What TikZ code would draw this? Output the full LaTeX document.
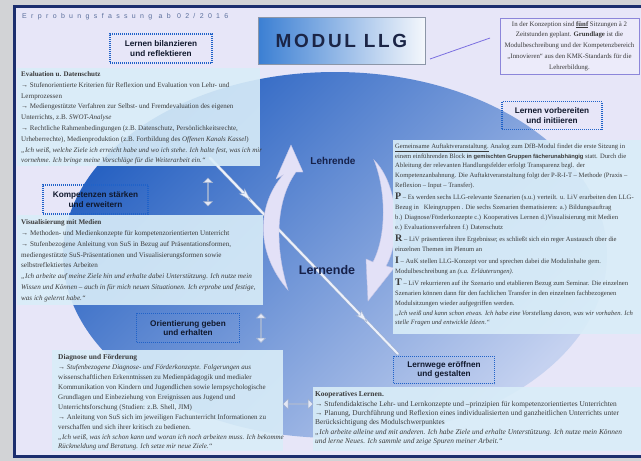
\documentclass[tikz,border=0pt]{standalone}
\usepackage{fontspec}
\setmainfont{Liberation Serif}
\setsansfont{Liberation Sans}
\newfontfamily\hdrfont[LetterSpace=62]{Liberation Sans}
\newfontfamily\modfont[LetterSpace=14]{Liberation Sans}
\usetikzlibrary{shapes.arrows,decorations.markings,arrows.meta}
\definecolor{outerbg}{HTML}{D2D3D6}
\definecolor{framebg}{HTML}{E7E6F8}
\definecolor{framec}{HTML}{1C2E6E}
\definecolor{blueA}{HTML}{2862C2}
\definecolor{blueB}{HTML}{5B92DB}
\definecolor{blueC}{HTML}{C5D2F0}
\definecolor{boxc}{HTML}{D9EDF8}
\definecolor{dotc}{HTML}{2062C8}
\definecolor{lblc}{HTML}{10182C}
\definecolor{txtc}{HTML}{3A3A3A}
\definecolor{hdrc}{HTML}{5B6F9C}
\definecolor{modA}{HTML}{3B7FD3}
\definecolor{modB}{HTML}{F4F7FC}
\definecolor{modd}{HTML}{8C96A8}
\definecolor{modtxt}{HTML}{1B2546}
\definecolor{infobg}{HTML}{ECEBFA}
\definecolor{infod}{HTML}{8C86DA}
\definecolor{lline}{HTML}{7B6FE0}
\definecolor{cresc}{HTML}{E3E1F7}
\definecolor{cresd}{HTML}{C5C6E6}
\definecolor{arrc}{HTML}{E4E8F5}
\definecolor{arrd}{HTML}{9FB0CE}
\definecolor{spf}{HTML}{EDF1FA}
\definecolor{spd}{HTML}{9FB0D0}
\definecolor{rolec}{HTML}{16214A}
\newcommand\bigltr[1]{{\fontsize{10}{9.5}\selectfont\bfseries #1}}
\begin{document}
\begin{tikzpicture}[x=1pt,y=-1pt,
  infobox/.style={fill=boxc, fill opacity=0.9, draw=none},
  dotbox/.style={draw=dotc, line width=1.3pt, dash pattern=on 1pt off 1pt, font=\sffamily\bfseries\fontsize{8.2}{9.6}\selectfont, align=center, text=lblc, inner sep=0pt},
  bodytext/.style={anchor=north west, align=left, inner sep=0pt, text=txtc},
  dblarrow/.style={double arrow, fill=arrc, draw=arrd, line width=0.5pt, double arrow head extend=4pt, inner sep=0pt, minimum width=9pt},
  crescent/.style={fill=cresc, draw=cresd, line width=0.4pt},
  rolelabel/.style={font=\sffamily\bfseries, text=rolec, inner sep=0pt},
  spikeline/.style={line cap=round}
]
\useasboundingbox (0,0) rectangle (641,461);
\clip (0,0) rectangle (641,461);
\fill[outerbg] (0,0) rectangle (641,461);
\fill[framebg] (14,6) rectangle (660,456);
% big blue area
\shade[top color=blueA, middle color=blueB, bottom color=blueC, shading angle=45] (335,255) ellipse [x radius=272pt, y radius=183pt];

% header
\node[anchor=west, text=hdrc, font=\hdrfont\fontsize{7}{8}\selectfont, inner sep=0pt] (hdr) at (22,17) {Erprobungsfassung ab 02/2016};

% title box
\node[draw=modd, line width=0.6pt, left color=modA, right color=modB, minimum width=167pt, minimum height=47pt, inner sep=0pt, font=\modfont\bfseries\fontsize{19}{21}\selectfont, text=modtxt] (modul) at (341.5,40.5) {MODUL LLG};

% info box
\node[draw=infod, line width=0.8pt, fill=infobg, minimum width=139pt, minimum height=56pt, align=center, font=\fontsize{6.8}{10.8}\selectfont, text=txtc, inner sep=0pt] (info) at (569.5,46) {In der Konzeption sind \textbf{\underline{fünf}} Sitzungen à 2\\Zeitstunden geplant. \textbf{Grundlage} ist die\\Modulbeschreibung und der Kompetenzbereich\\„Innovieren“ aus den KMK-Standards für die\\Lehrerbildung.};
\coordinate (pl1) at (430,59);
\coordinate (pl2) at (490,38);
\draw[lline, line width=0.8pt] (pl1) -- (pl2);

% spike
\coordinate (spA) at (210,158);
\coordinate (spB) at (398,354);
\draw[spikeline, spd, line width=3pt] (spA) -- (spB);
\draw[spikeline, spf, line width=2pt] (spA) -- (spB);
\path[decorate, decoration={markings,
  mark=at position 0.2 with {\draw[spd, fill=spf, line width=0.4pt] (-8,-3.5) -- (4,0) -- (-8,3.5) -- (-5,0) -- cycle;},
  mark=at position 0.82 with {\draw[spd, fill=spf, line width=0.4pt] (-8,-3.5) -- (4,0) -- (-8,3.5) -- (-5,0) -- cycle;}}] (spA) -- (spB);

% crescents
\path[crescent] (288,290) .. controls (255,252) and (257,205) .. (283,175) -- (276,179) -- (291,145) -- (303,172) -- (296,172) .. controls (276,200) and (274,245) .. (288,290) -- cycle;
\path[crescent] (374,160) .. controls (399,185) and (401,240) .. (386,266) -- (394,268) -- (368,301) -- (366,259) -- (373,262) .. controls (387,235) and (386,190) .. (374,160) -- cycle;
\node[rolelabel, font=\sffamily\bfseries\fontsize{10}{12}\selectfont] (lehr) at (333,161) {Lehrende};
\node[rolelabel, font=\sffamily\bfseries\fontsize{12.5}{14}\selectfont] (lern) at (327,270) {Lernende};

% boxes
\fill[infobox] (17,68) rectangle (260,166);
\fill[infobox] (17,215) rectangle (263,305);
\fill[infobox] (52,350) rectangle (283,451);
\fill[infobox] (393,140) rectangle (660,334);
\fill[infobox] (313,387) rectangle (660,451);

\node[bodytext, font=\fontsize{7.0}{10.8}\selectfont] (evaltxt) at (21,71.5) {\textbf{Evaluation u. Datenschutz}\\
→ Stufenorientierte Kriterien für Reflexion und Evaluation von Lehr- und\\
Lernprozessen\\
→ Mediengestützte Verfahren zur Selbst- und Fremdevaluation des eigenen\\
Unterrichts, z.B. \textit{SWOT-Analyse}\\
→ Rechtliche Rahmenbedingungen (z.B. Datenschutz, Persönlichkeitsrechte,\\
Urheberrechte), Medienproduktion (z.B. Fortbildung des \textit{Offenen Kanals Kassel})\\
\textit{„Ich weiß, welche Ziele ich erreicht habe und wo ich stehe. Ich halte fest, was ich mir}\\
\textit{vornehme. Ich bringe meine Vorschläge für die Weiterarbeit ein.“}};

\node[bodytext, font=\fontsize{7.1}{10.8}\selectfont] (vistxt) at (21,219.5) {\textbf{Visualisierung mit Medien}\\
→ Methoden- und Medienkonzepte für kompetenzorientierten Unterricht\\
→ Stufenbezogene Anleitung von SuS in Bezug auf Präsentationsformen,\\
mediengestützte SuS-Präsentationen und Visualisierungsformen sowie\\
selbstreflektiertes Arbeiten\\
\textit{„Ich arbeite auf meine Ziele hin und erhalte dabei Unterstützung. Ich nutze mein}\\
\textit{Wissen und Können – auch in für mich neuen Situationen. Ich erprobe und festige,}\\
\textit{was ich gelernt habe.“}};

\node[bodytext, font=\fontsize{7.0}{9.9}\selectfont] (diagtxt) at (58,354.5) {{\fontsize{7.4}{9.9}\selectfont\textbf{Diagnose und Förderung}}\\
→ \textit{Stufenbezogene Diagnose- und Förderkonzepte. Folgerungen aus}\\
wissenschaftlichen Erkenntnissen zu Medienpädagogik und medialer\\
Kommunikation von Kindern und Jugendlichen sowie lernpsychologische\\
Grundlagen und Einbeziehung von Ereignissen aus Jugend und\\
Unterrichtsforschung (Studien: z.B. Shell, JIM)\\
→ Anleitung von SuS sich im jeweiligen Fachunterricht Informationen zu\\
verschaffen und sich ihrer kritisch zu bedienen.\\
\textit{„Ich weiß, was ich schon kann und woran ich noch arbeiten muss. Ich bekomme}\\
\textit{Rückmeldung und Beratung. Ich setze mir neue Ziele.“}};

\node[bodytext, font=\fontsize{6.6}{9.8}\selectfont] (righttxt) at (395,143.5) {\underline{Gemeinsame Auftaktveranstaltung.} Analog zum DfB-Modul findet die erste Sitzung in\\
einem einführenden Block {\sffamily\bfseries\fontsize{5.8}{9.8}\selectfont in gemischten Gruppen fächerunabhängig} statt. Durch die\\
Ableitung der relevanten Handlungsfelder erfolgt Transparenz bzgl. der\\
Kompetenzanbahnung. Die Auftaktveranstaltung folgt der P-R-I-T – Methode (Praxis –\\
Reflexion – Input – Transfer).\\[2.5pt]
\bigltr{P} – Es werden sechs LLG-relevante Szenarien (s.u.) verteilt. u. LiV erarbeiten den LLG-\\
Bezug in \ \ Kleingruppen . Die sechs Szenarien thematisieren: a.) Bildungsauftrag\\
b.) Diagnose/Förderkonzepte c.) Kooperatives Lernen d.)Visualisierung mit Medien\\
e.) Evaluationsverfahren f.) Datenschutz\\[2.5pt]
\bigltr{R} – LiV präsentieren ihre Ergebnisse; es schließt sich ein reger Austausch über die\\
einzelnen Themen im Plenum an\\[2.5pt]
\bigltr{I} – AuK stellen LLG-Konzept vor und sprechen dabei die Modulinhalte gem.\\
Modulbeschreibung an \textit{(s.a. Erläuterungen)}.\\[2.5pt]
\bigltr{T} – LiV rekurrieren auf ihr Szenario und etablieren Bezug zum Seminar. Die einzelnen\\
Szenarien können dann für den fachlichen Transfer in den einzelnen fachbezogenen\\
Modulsitzungen wieder aufgegriffen werden.\\
\textit{„Ich weiß und kann schon etwas. Ich habe eine Vorstellung davon, was wir vorhaben. Ich}\\
\textit{stelle Fragen und entwickle Ideen.“}};

\node[bodytext, font=\fontsize{7.4}{9.3}\selectfont] (kooptxt) at (315,391.5) {\textbf{Kooperatives Lernen.}\\
→ Stufendidaktische Lehr- und Lernkonzepte und –prinzipien für kompetenzorientiertes Unterrichten\\
→ Planung, Durchführung und Reflexion eines individualisierten und ganzheitlichen Unterrichts unter\\
Berücksichtigung des Modulschwerpunktes\\
\textit{„Ich arbeite alleine und mit anderen. Ich habe Ziele und erhalte Unterstützung. Ich nutze mein Können}\\
\textit{und lerne Neues. Ich sammle und zeige Spuren meiner Arbeit.“}};

% dotted label boxes
\node[dotbox, minimum width=102pt, minimum height=29pt] (bilanz) at (161,48.5) {Lernen bilanzieren\\und reflektieren};
\node[dotbox, minimum width=105pt, minimum height=29pt] (kompet) at (95.5,199.5) {Kompetenzen stärken\\und erweitern};
\node[dotbox, minimum width=103pt, minimum height=29pt] (orient) at (188,328) {Orientierung geben\\und erhalten};
\node[dotbox, minimum width=100pt, minimum height=28pt] (vorber) at (552,115.5) {Lernen vorbereiten\\und initiieren};
\node[dotbox, minimum width=101pt, minimum height=27pt] (lernweg) at (444,370) {Lernwege eröffnen\\und gestalten};

% double arrows
\node[dblarrow, rotate=90, minimum height=28pt] (da1) at (208,192) {};
\node[dblarrow, rotate=90, minimum height=29pt] (da2) at (261,328) {};
\node[dblarrow, minimum height=30pt, minimum width=10pt, double arrow head extend=4pt] (da3) at (298,404) {};

% frame border
\draw[framec, line width=3pt] (14,6) rectangle (660,456);
\end{tikzpicture}
\end{document}
